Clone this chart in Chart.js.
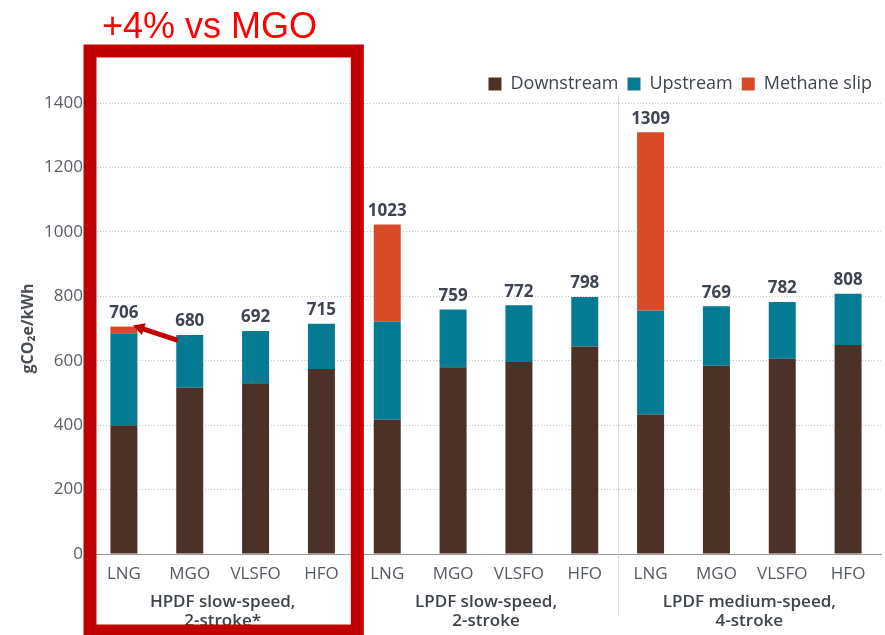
<!DOCTYPE html>
<html>
<head>
<meta charset="utf-8">
<script src="https://cdn.jsdelivr.net/npm/chart.js@4.4.1/dist/chart.umd.min.js"></script>
<style>
  html, body { margin: 0; padding: 0; background: #fff; }
  #wrap { width: 885px; height: 635px; position: relative; }
</style>
</head>
<body>
<div id="wrap"><canvas id="emissionsChart" width="885" height="635"></canvas></div>
<script>
// Chart data (gCO2e/kWh)
const fuels = ['LNG', 'MGO', 'VLSFO', 'HFO', 'LNG', 'MGO', 'VLSFO', 'HFO', 'LNG', 'MGO', 'VLSFO', 'HFO'];
const engineGroups = [['HPDF slow-speed,', '2-stroke*'], ['LPDF slow-speed,', '2-stroke'], ['LPDF medium-speed,', '4-stroke']];
const downstream = [400, 516, 530, 574, 417, 580, 596, 644, 433, 584, 606, 649];
const upstream = [285, 164, 162, 141, 305, 179, 176, 154, 323, 185, 176, 159];
const methaneSlip = [21, 0, 0, 0, 301, 0, 0, 0, 553, 0, 0, 0];
const yTicks = [0, 200, 400, 600, 800, 1000, 1200, 1400];

const totals = fuels.map((f, i) => downstream[i] + upstream[i] + methaneSlip[i]);

const FONT = '"Open Sans", "DejaVu Sans", sans-serif';
const RED = '#c00000';

// Total value above each stacked bar
const totalLabels = {
    id: 'totalLabels',
    afterDatasetsDraw(chart) {
        const ctx = chart.ctx;
        const yScale = chart.scales.y;
        const meta = chart.getDatasetMeta(0);
        ctx.save();
        ctx.font = 'bold 17px ' + FONT;
        ctx.fillStyle = '#3e4550';
        ctx.textAlign = 'center';
        ctx.textBaseline = 'bottom';
        totals.forEach((t, i) => {
            const x = meta.data[i].x;
            ctx.fillText(String(t), x, yScale.getPixelForValue(t) - 5);
        });
        ctx.restore();
    }
};

// Thin vertical separators between engine groups
const groupSeparators = {
    id: 'groupSeparators',
    beforeDatasetsDraw(chart) {
        const ctx = chart.ctx;
        const xScale = chart.scales.x;
        const area = chart.chartArea;
        ctx.save();
        ctx.strokeStyle = '#dedede';
        ctx.lineWidth = 1;
        [3.5, 7.5].forEach(v => {
            const x = Math.round(xScale.getPixelForValue(v)) + 0.5;
            ctx.beginPath();
            ctx.moveTo(x, area.top - 8);
            ctx.lineTo(x, chart.height - 20);
            ctx.stroke();
        });
        ctx.restore();
    }
};

// Red highlight box, note and arrow around the first group
const highlight = {
    id: 'highlight',
    afterDraw(chart) {
        const ctx = chart.ctx;
        const xScale = chart.scales.x;
        const yScale = chart.scales.y;
        const area = chart.chartArea;
        ctx.save();

        // box
        const left = area.left - 1;
        const right = xScale.getPixelForValue(3.5) + 3;
        const top = area.top - 52;
        const bottom = chart.height - 4;
        ctx.strokeStyle = RED;
        ctx.lineWidth = 13;
        ctx.strokeRect(left, top, right - left, bottom - top);

        // note
        ctx.fillStyle = '#ff0000';
        ctx.font = '36px "Liberation Sans", Arial, sans-serif';
        ctx.textAlign = 'left';
        ctx.textBaseline = 'alphabetic';
        ctx.fillText('+4% vs MGO', left + 12, top - 13);

        // arrow from MGO bar to LNG methane slip
        const meta = chart.getDatasetMeta(0);
        const x1 = meta.data[1].x - 12, y1 = yScale.getPixelForValue(663);
        const x2 = meta.data[0].x + 9, y2 = yScale.getPixelForValue(709);
        const ang = Math.atan2(y2 - y1, x2 - x1);
        const head = 13;
        ctx.strokeStyle = RED;
        ctx.fillStyle = RED;
        ctx.lineWidth = 5;
        ctx.beginPath();
        ctx.moveTo(x1, y1);
        ctx.lineTo(x2 - Math.cos(ang) * head * 0.7, y2 - Math.sin(ang) * head * 0.7);
        ctx.stroke();
        ctx.beginPath();
        ctx.moveTo(x2, y2);
        ctx.lineTo(x2 - head * Math.cos(ang - 0.5), y2 - head * Math.sin(ang - 0.5));
        ctx.lineTo(x2 - head * Math.cos(ang + 0.5), y2 - head * Math.sin(ang + 0.5));
        ctx.closePath();
        ctx.fill();

        ctx.restore();
    }
};

const barOpts = { barPercentage: 0.41, categoryPercentage: 1.0, borderWidth: 0 };

new Chart(document.getElementById('emissionsChart'), {
    type: 'bar',
    data: {
        labels: fuels,
        datasets: [
            Object.assign({ label: 'Downstream', data: downstream, backgroundColor: '#4b3128' }, barOpts),
            Object.assign({ label: 'Upstream', data: upstream, backgroundColor: '#047b92' }, barOpts),
            Object.assign({ label: 'Methane slip', data: methaneSlip, backgroundColor: '#d94a29' }, barOpts)
        ]
    },
    options: {
        responsive: false,
        animation: false,
        devicePixelRatio: 1,
        layout: { padding: { top: 66, right: 4, left: 0, bottom: 0 } },
        plugins: {
            tooltip: { enabled: false },
            legend: {
                position: 'top',
                align: 'end',
                labels: {
                    boxWidth: 13,
                    boxHeight: 13,
                    padding: 9,
                    color: '#3e4550',
                    font: { family: FONT, size: 18 }
                }
            }
        },
        scales: {
            x: {
                stacked: true,
                grid: { display: false },
                border: { display: true, color: '#9a9a9a', width: 1 },
                ticks: {
                    color: '#555a60',
                    font: { family: FONT, size: 17 },
                    padding: 2,
                    maxRotation: 0,
                    autoSkip: false
                },
                afterFit(scale) { scale.height = 30; }
            },
            x2: {
                type: 'category',
                position: 'bottom',
                labels: engineGroups,
                offset: true,
                grid: { display: false },
                border: { display: false },
                ticks: {
                    color: '#3d434a',
                    font: { family: FONT, size: 17, weight: '600', lineHeight: 1.15 },
                    padding: 0,
                    maxRotation: 0,
                    autoSkip: false
                },
                afterFit(scale) { scale.height = 51; }
            },
            y: {
                stacked: true,
                min: 0,
                max: 1400,
                afterBuildTicks(scale) { scale.ticks = yTicks.map(v => ({ value: v })); },
                grid: {
                    color: '#c4c4c4',
                    drawTicks: false
                },
                border: { display: false, dash: [1, 2] },
                ticks: {
                    color: '#5a5f66',
                    font: { family: FONT, size: 17 },
                    padding: 8,
                    callback: v => String(v)
                },
                title: {
                    display: true,
                    text: 'gCO₂e/kWh',
                    color: '#4a4f55',
                    font: { family: FONT, size: 16, weight: 'bold' },
                    padding: { top: 19, bottom: 0 }
                },
                afterFit(scale) { scale.width = 91; }
            }
        }
    },
    plugins: [groupSeparators, totalLabels, highlight]
});
</script>
</body>
</html>
